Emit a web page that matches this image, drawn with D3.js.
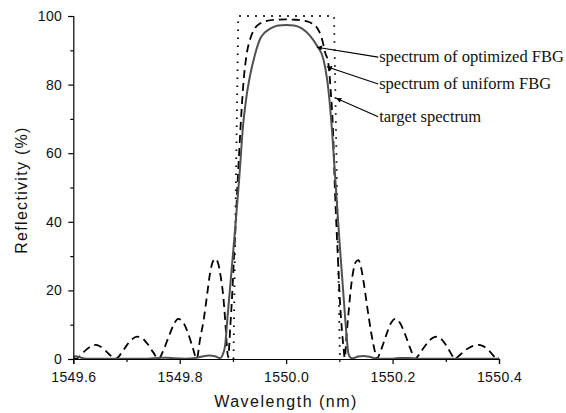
<!DOCTYPE html>
<html>
<head>
<meta charset="utf-8">
<script src="https://cdn.jsdelivr.net/npm/d3@7/dist/d3.min.js"></script>
<style>
  html, body { margin: 0; padding: 0; background: #fff; }
  svg { display: block; }
</style>
</head>
<body>
<svg id="chart" width="566" height="413"></svg>
<script>
// ---------------- data ----------------
const xTicks = [1549.6, 1549.8, 1550.0, 1550.2, 1550.4];
const xMinorTicks = [1549.7, 1549.9, 1550.1, 1550.3];
const yTicks = [0, 20, 40, 60, 80, 100];
const yMinorTicks = [10, 30, 50, 70, 90];

// target spectrum (dotted)
const targetWavelength = [1549.901, 1549.910, 1550.090, 1550.101];
const targetReflectivity = [0, 100, 100, 0];

// spectrum of uniform FBG (dashed)
const uniformWavelength = [
  1549.600, 1549.605, 1549.615, 1549.625, 1549.633, 1549.641, 1549.650, 1549.660, 1549.670, 1549.679,
  1549.690, 1549.700, 1549.710, 1549.720, 1549.730, 1549.740, 1549.750, 1549.760,
  1549.770, 1549.780, 1549.790, 1549.797, 1549.805, 1549.815, 1549.825, 1549.832,
  1549.838, 1549.845, 1549.851, 1549.857, 1549.862, 1549.867, 1549.872, 1549.877, 1549.882, 1549.886, 1549.889, 1549.891,
  1549.895, 1549.899, 1549.902, 1549.905, 1549.908, 1549.912, 1549.916, 1549.920, 1549.926, 1549.934, 1549.942, 1549.952, 1549.964, 1549.980,
  1550.000, 1550.020, 1550.036, 1550.048, 1550.058, 1550.066, 1550.074, 1550.079, 1550.084, 1550.088, 1550.092, 1550.095, 1550.098, 1550.101, 1550.105, 1550.108, 1550.110,
  1550.114, 1550.117, 1550.120, 1550.126, 1550.131, 1550.136, 1550.141, 1550.147, 1550.153, 1550.160, 1550.167, 1550.170,
  1550.178, 1550.187, 1550.196, 1550.205, 1550.214, 1550.224, 1550.234, 1550.242,
  1550.252, 1550.262, 1550.273, 1550.283, 1550.293, 1550.303, 1550.312, 1550.316,
  1550.326, 1550.337, 1550.349, 1550.362, 1550.372, 1550.382, 1550.390, 1550.395, 1550.400
];
const uniformReflectivity = [
  0.2, 0, 1.3, 2.8, 3.7, 4.1, 3.7, 2.5, 1.0, 0,
  1.6, 3.9, 5.7, 6.5, 6.0, 4.3, 2.0, 0,
  2.8, 6.8, 10.4, 11.7, 11.0, 7.8, 3.0, 0,
  5.6, 11.4, 18.2, 25.0, 28.3, 29.2, 28.0, 24.0, 18.0, 10.0, 3.0, 0.5,
  9.4, 20, 30, 39, 49, 61, 72, 81, 89, 94, 96.6, 97.9, 98.6, 98.9,
  99.0, 98.9, 98.6, 97.9, 96.6, 94, 89, 86.5, 77.7, 67, 48, 37, 27, 17, 8, 3, 0.3,
  8, 13, 18.2, 25.5, 28.3, 28.8, 26.5, 21, 14.5, 7.5, 2.0, 0,
  2.5, 6.5, 10.2, 11.7, 10.5, 7.0, 2.8, 0,
  1.8, 4.0, 5.9, 6.5, 5.6, 3.4, 1.0, 0,
  1.1, 2.6, 3.7, 4.1, 3.6, 2.3, 0.9, 0, 0.3
];

// spectrum of optimized FBG (solid)
const optimizedWavelength = [
  1549.600, 1549.605, 1549.612, 1549.625, 1549.700, 1549.740, 1549.760, 1549.775, 1549.790, 1549.810, 1549.830,
  1549.845, 1549.855, 1549.866, 1549.876, 1549.880, 1549.885, 1549.890, 1549.896, 1549.904, 1549.912, 1549.919,
  1549.925, 1549.932, 1549.941, 1549.951, 1549.960, 1549.970, 1549.985, 1550.000,
  1550.015, 1550.030, 1550.045, 1550.058, 1550.070, 1550.077, 1550.083, 1550.086, 1550.093, 1550.100, 1550.108,
  1550.114, 1550.117, 1550.121, 1550.125, 1550.135, 1550.145, 1550.158, 1550.170, 1550.200, 1550.215, 1550.230,
  1550.245, 1550.300, 1550.400
];
const optimizedReflectivity = [
  0.5, 0.8, 0.5, 0.1, 0.05, 0.1, 0.3, 0.4, 0.2, 0.1, 0.3,
  0.8, 1.0, 0.8, 0.2, 1.0, 3.6, 12.5, 23.3, 37.7, 53, 68,
  76, 82.5, 88.5, 93.3, 95.2, 96.3, 97.2, 97.4,
  97.2, 96.3, 94.2, 91.3, 87.4, 81.5, 72.8, 67, 51, 34.8, 18,
  6, 1.6, 0.4, 0.2, 0.7, 0.9, 0.6, 0.1, 0.1, 0.3, 0.3,
  0.1, 0.05, 0.05
];

// annotations: arrow tip (on curve) and tail (at text) in data units
const annotationLabels = ["spectrum of optimized FBG", "spectrum of uniform FBG", "target spectrum"];
const annotationTipX = [1550.0577, 1550.0765, 1550.094];
const annotationTipY = [90.9, 85.2, 76.0];
const annotationTailX = [1550.173, 1550.173, 1550.173];
const annotationTailY = [88.0, 80.2, 70.6];

// ---------------- drawing ----------------
const svg = d3.select("#chart");
const x = d3.scaleLinear().domain([1549.6, 1550.4]).range([73.3, 499]);
const y = d3.scaleLinear().domain([0, 100]).range([359, 16]);

const zip = (xs, ys) => xs.map((v, i) => [v, ys[i]]);
const line = d3.line().x(d => x(d[0])).y(d => y(d[1]));
const smooth = d3.line().x(d => x(d[0])).y(d => y(d[1])).curve(d3.curveMonotoneX);

const plot = svg.append("g");

plot.append("path")
  .datum(zip(targetWavelength, targetReflectivity))
  .attr("d", line)
  .attr("fill", "none")
  .attr("stroke", "#000")
  .attr("stroke-width", 1.8)
  .attr("stroke-dasharray", "1.6,6.4");

plot.append("path")
  .datum(zip(uniformWavelength, uniformReflectivity))
  .attr("d", smooth)
  .attr("fill", "none")
  .attr("stroke", "#000")
  .attr("stroke-width", 1.8)
  .attr("stroke-dasharray", "8,5");

plot.append("path")
  .datum(zip(optimizedWavelength, optimizedReflectivity))
  .attr("d", smooth)
  .attr("fill", "none")
  .attr("stroke", "#505050")
  .attr("stroke-width", 2);

// axes
const axisColor = "#000";
const gx = svg.append("g").attr("transform", `translate(0,${y(0)})`)
  .call(d3.axisBottom(x).tickValues(xTicks).tickSize(5).tickPadding(8).tickFormat(d3.format(".1f")));
const gxm = svg.append("g").attr("transform", `translate(0,${y(0)})`)
  .call(d3.axisBottom(x).tickValues(xMinorTicks).tickSize(3).tickFormat(""));
const gy = svg.append("g").attr("transform", `translate(${x(1549.6)},0)`)
  .call(d3.axisLeft(y).tickValues(yTicks).tickSize(5).tickPadding(6));
const gym = svg.append("g").attr("transform", `translate(${x(1549.6)},0)`)
  .call(d3.axisLeft(y).tickValues(yMinorTicks).tickSize(3).tickFormat(""));

[gx, gxm, gy, gym].forEach(g => {
  g.select(".domain").attr("stroke", axisColor).attr("stroke-width", 1.2);
  g.selectAll(".tick line").attr("stroke", axisColor).attr("stroke-width", 1.2);
  g.selectAll(".tick text")
    .attr("fill", "#111")
    .style("font-family", "'Liberation Sans', Arial, sans-serif")
    .style("font-size", "14px")
    .style("letter-spacing", "0.4px");
});
gxm.select(".domain").remove();
gym.select(".domain").remove();

// axis titles
svg.append("text")
  .attr("x", 286)
  .attr("y", 407)
  .attr("text-anchor", "middle")
  .style("font-family", "'Liberation Sans', Arial, sans-serif")
  .style("font-size", "16px")
  .style("letter-spacing", "1.5px")
  .attr("fill", "#111")
  .text("Wavelength (nm)");

svg.append("text")
  .attr("transform", "translate(27,190) rotate(-90)")
  .attr("text-anchor", "middle")
  .style("font-family", "'Liberation Sans', Arial, sans-serif")
  .style("font-size", "16px")
  .style("letter-spacing", "1.3px")
  .attr("fill", "#111")
  .text("Reflectivity (%)");

// arrowhead marker
svg.append("defs").append("marker")
  .attr("id", "arrow")
  .attr("viewBox", "0 0 10 10")
  .attr("refX", 10).attr("refY", 5)
  .attr("markerWidth", 7).attr("markerHeight", 5)
  .attr("markerUnits", "userSpaceOnUse")
  .attr("orient", "auto")
  .append("path")
  .attr("d", "M0,0 L10,5 L0,10 z")
  .attr("fill", "#000");

const ann = svg.append("g");
annotationLabels.forEach((label, i) => {
  const tx = x(annotationTailX[i]), ty = y(annotationTailY[i]);
  ann.append("line")
    .attr("x1", tx).attr("y1", ty)
    .attr("x2", x(annotationTipX[i])).attr("y2", y(annotationTipY[i]))
    .attr("stroke", "#000")
    .attr("stroke-width", 1.1)
    .attr("marker-end", "url(#arrow)");
  ann.append("text")
    .attr("x", tx + 1)
    .attr("y", ty + 5)
    .style("font-family", "'Liberation Serif', 'Times New Roman', serif")
    .style("font-size", "16.5px")
    .attr("fill", "#111")
    .text(label);
});
</script>
</body>
</html>
